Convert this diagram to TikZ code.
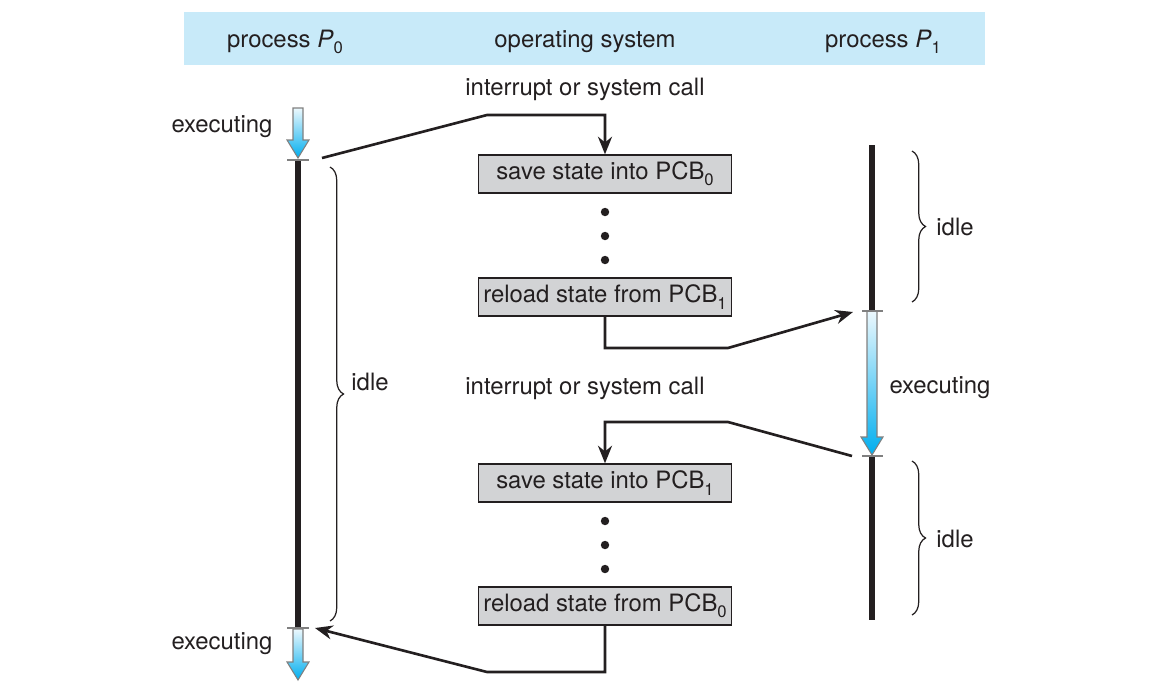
\documentclass[tikz,border=0pt]{standalone}
\usepackage{fontspec}
\setmainfont{TeX Gyre Heros}
\usepackage{tikz}
\usetikzlibrary{positioning}
\usetikzlibrary{arrows.meta}
\usetikzlibrary{decorations.pathreplacing}
\definecolor{bandblue}{RGB}{200,234,249}
\definecolor{boxgray}{RGB}{210,211,213}
\definecolor{inkdark}{RGB}{35,31,32}
\definecolor{execcyan}{RGB}{0,174,239}
\definecolor{execpale}{RGB}{236,248,253}
\newcommand{\lowsub}[1]{\raisebox{-0.5ex}{\fontsize{9.5}{10}\selectfont #1}}
\newcommand{\execarrow}[3]{%
  \shadedraw[top color=execpale, bottom color=execcyan, draw=gray, line width=0.6pt]
    ({#1-5},#2) -- ({#1+5},#2) -- ({#1+5},{#3-18}) -- ({#1+11},{#3-18}) -- (#1,#3)
    -- ({#1-11},{#3-18}) -- ({#1-5},{#3-18}) -- cycle;}

\begin{document}
\begin{tikzpicture}[x=0.02cm, y=-0.02cm, font=\fontsize{13.6}{16}\selectfont, text=inkdark,
    osbox/.style={draw=inkdark, fill=boxgray, line width=0.8pt, minimum width=5.06cm,
      minimum height=0.76cm, inner sep=0pt},
    link/.style={draw=inkdark, line width=1.5pt, -{Stealth[length=10pt,width=8pt]}},
    timebar/.style={draw=inkdark, line width=3.4pt},
    tick/.style={draw=gray, line width=0.7pt},
    idlebrace/.style={draw=inkdark, line width=0.7pt, decorate,
      decoration={brace, amplitude=0.27cm}}]
    \useasboundingbox (0,0) rectangle (1159,697);

    % header
    \fill[bandblue] (184,12) rectangle (985,65);
    \node (hp0) at (285,42) {process \textit{P}\lowsub{0}};
    \node (hos) at (585,42) {operating system};
    \node (hp1) at (883,42) {process \textit{P}\lowsub{1}};

    % operating system column
    \node (call0) at (585,89) {interrupt or system call};
    \node[osbox] (save0) at (605,174) {save state into PCB\lowsub{0}};
    \node[osbox] (reload1) at (605,297) {reload state from PCB\lowsub{1}};
    \node (call1) at (585,388) {interrupt or system call};
    \node[osbox] (save1) at (605,483) {save state into PCB\lowsub{1}};
    \node[osbox] (reload0) at (605,606) {reload state from PCB\lowsub{0}};
    \foreach \y in {212,236,260,521,545,569}
        \fill[inkdark] (605,\y) circle (2.4pt);

    % process P0
    \coordinate (p0top) at (298,160);
    \coordinate (p0bot) at (298,628);
    \execarrow{298}{108}{158}
    \draw[timebar] (p0top) -- (p0bot);
    \draw[tick] (287,160) -- (309,160);
    \draw[tick] (287,628) -- (309,628);
    \execarrow{298}{629}{680}
    \node (ex0a) at (222,127) {executing};
    \node (ex0b) at (222,644) {executing};
    \draw[idlebrace] (330,167) -- (330,621);
    \node (idle0) at (370,382) {idle};

    % process P1
    \coordinate (p1a) at (872,145);
    \coordinate (p1b) at (872,311);
    \coordinate (p1c) at (872,456);
    \coordinate (p1d) at (872,620);
    \draw[timebar] (p1a) -- (p1b);
    \execarrow{872}{311}{455}
    \draw[timebar] (p1c) -- (p1d);
    \draw[tick] (862,311) -- (883,311);
    \draw[tick] (862,456) -- (883,456);
    \node (ex1) at (940,388) {executing};
    \draw[idlebrace] (912,151) -- (912,302);
    \node (idle1a) at (955,227) {idle};
    \draw[idlebrace] (912,461) -- (912,615);
    \node (idle1b) at (955,539) {idle};

    % switches
    \coordinate (out0) at (322,158);
    \coordinate (in1) at (853,312);
    \coordinate (out1) at (852,456);
    \coordinate (in0) at (315,628);
    \draw[link] (out0) -- (487,115) -| (save0.north);
    \draw[link] (reload1.south) |- (728,348) -- (in1);
    \draw[link] (out1) -- (728,422) -| (save1.north);
    \draw[link] (reload0.south) |- (487,672) -- (in0);
\end{tikzpicture}
\end{document}
